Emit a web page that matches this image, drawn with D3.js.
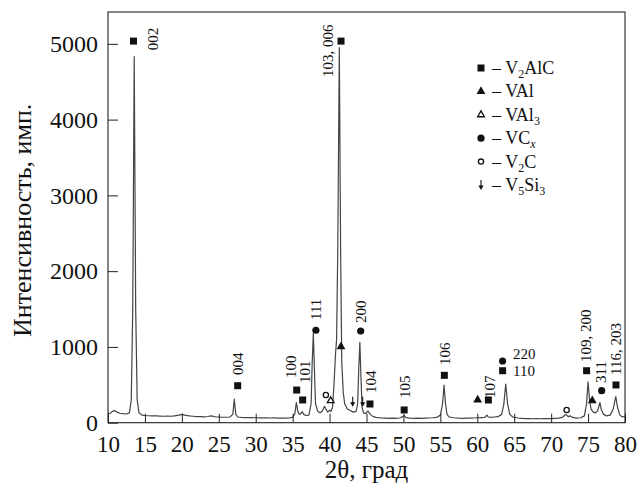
<!DOCTYPE html>
<html><head><meta charset="utf-8">
<script src="https://cdn.jsdelivr.net/npm/d3@7"></script>
<style>
body{margin:0;background:#fff}
text{font-family:"Liberation Serif","Times New Roman",serif;fill:#111}
</style>
</head><body>
<svg id="c" width="638" height="491"></svg>
<script>
// ---- data ----
const theta = [10.0,10.3,10.6,10.9,11.2,11.6,12.0,12.5,12.9,13.15,13.35,13.55,13.75,13.95,14.2,14.6,15,15.5,16,16.5,17,17.5,18,18.5,19,19.6,20,20.4,21,21.5,22,22.5,23,23.5,24,24.5,25,25.5,26,26.5,26.9,27.1,27.3,27.6,28,28.5,29,29.5,30,30.5,31,31.5,32,32.5,33,33.5,34,34.5,35,35.3,35.5,35.7,35.9,36.1,36.3,36.5,36.8,37.2,37.5,37.65,37.8,37.95,38.1,38.4,38.7,39.0,39.3,39.5,39.75,40.0,40.2,40.4,40.6,40.8,40.95,41.1,41.32,41.5,41.65,41.85,42.05,42.4,42.8,43.2,43.6,43.8,43.95,44.1,44.25,44.4,44.6,44.9,45.2,45.5,45.9,46.3,47,47.5,48,48.5,49,49.5,49.9,50.1,50.3,50.8,51.5,52,52.5,53,53.5,54,54.5,55,55.3,55.5,55.7,55.9,56.2,56.8,57.5,58,58.5,59,59.5,60,60.5,61,61.3,61.5,61.8,62.3,62.8,63.3,63.6,63.85,64.1,64.4,64.8,65.5,66,66.5,67,67.5,68,68.5,69,69.5,70,70.5,71,71.5,71.8,72.0,72.3,72.6,72.9,73.4,74,74.5,74.8,75.0,75.2,75.4,75.7,76.0,76.3,76.6,76.8,77.1,77.5,78,78.4,78.75,79.0,79.3,79.6,80];
const intensity = [120,125,150,160,140,125,120,115,130,300,1500,4830,1500,300,130,100,95,92,90,92,88,85,88,85,90,100,110,100,90,85,80,80,78,82,90,78,75,72,72,75,110,310,110,75,70,68,66,66,65,65,63,65,62,63,60,62,60,62,70,120,265,150,110,120,145,110,95,100,250,800,1180,700,250,150,130,150,215,180,140,165,150,200,500,900,1100,2200,4950,2200,800,400,250,180,160,140,150,250,700,1060,600,200,130,120,155,110,80,70,62,60,58,60,58,62,80,95,70,60,58,60,58,60,62,65,70,100,250,495,250,110,75,65,60,58,60,60,62,65,68,70,100,75,70,75,80,110,250,510,250,110,75,62,58,55,55,52,55,52,55,55,55,58,60,70,95,110,80,90,70,60,65,90,250,540,300,180,140,130,160,265,170,110,90,100,180,345,200,100,80,75];
const xTicks = [10,15,20,25,30,35,40,45,50,55,60,65,70,75,80];
const yTicks = [0,1000,2000,3000,4000,5000];

const phases = ["V2AlC","VAl","VAl3","VCx","V2C","V5Si3"];
const markerPhase = ["V2AlC","V2AlC","V2AlC","V2AlC","V2AlC","V2AlC","V2AlC","V2AlC","V2AlC","V2AlC","V2AlC","V2AlC",
  "VAl","VAl","VAl","VAl3","VCx","VCx","VCx","VCx","V2C","V2C","V5Si3","V5Si3"];
const markerTheta = [13.45,27.56,35.55,36.36,41.55,45.47,50.1,55.54,61.5,63.43,74.8,78.78,
  41.55,60.05,75.57,40.15,38.15,44.21,63.43,76.84,39.5,72.1,43.13,44.48];
const markerI = [5036,488,431,300,5036,247,168,625,300,686,686,498,
  1003,300,290,290,1220,1210,814,422,366,168,211,211];

const labelText = ["002","004","100","101","111","103, 006","200","104","105","106","107","109, 200","311","116, 203","220","110"];
const labelTheta = [16.77,28.28,35.45,37.35,38.84,40.46,44.93,46.28,50.89,56.30,62.40,75.40,77.42,79.46,64.83,64.83];
const labelI = [4914,629,590,524,1355,4561,1315,392,326,761,326,801,524,629,840,616];
const labelRotated = [1,1,1,1,1,1,1,1,1,1,1,1,1,1,0,0];

// ---- chart ----
const svg = d3.select("#c");
const x = d3.scaleLinear().domain([10,80]).range([108,625]);
const y = d3.scaleLinear().domain([0,5420]).range([422.7,12]);

// spectrum
const pts = theta.map((t,i)=>[t,intensity[i]]);
svg.append("path").datum(pts)
  .attr("d", d3.line().x(d=>x(d[0])).y(d=>y(d[1])))
  .attr("fill","none").attr("stroke","#444").attr("stroke-width",1.2).attr("stroke-linejoin","round");

// frame
svg.append("rect").attr("x",x(10)).attr("y",y(5420)).attr("width",x(80)-x(10)).attr("height",y(0)-y(5420))
  .attr("fill","none").attr("stroke","#222").attr("stroke-width",1.1);

// axes
const gx = svg.append("g").attr("transform",`translate(0,${y(0)})`)
  .call(d3.axisBottom(x).tickValues(xTicks).tickFormat(d3.format("d")).tickSize(-9).tickPadding(13));
gx.select(".domain").remove();
gx.selectAll("line").attr("stroke","#222");
gx.selectAll("text").attr("font-size",23).attr("font-family","Liberation Serif").attr("fill","#111");

const gy = svg.append("g").attr("transform",`translate(${x(10)},0)`)
  .call(d3.axisLeft(y).tickValues(yTicks).tickFormat(d3.format("d")).tickSize(-10).tickPadding(10));
gy.select(".domain").remove();
gy.selectAll("line").attr("stroke","#222");
gy.selectAll("text").attr("font-size",24).attr("font-family","Liberation Serif").attr("fill","#111");

// axis titles
svg.append("text").attr("x",(x(10)+x(80))/2).attr("y",478).attr("text-anchor","middle")
  .attr("font-size",25).text("2θ, град");
svg.append("text").attr("transform",`translate(31,${(y(0)+y(5420))/2 + 3}) rotate(-90)`)
  .attr("text-anchor","middle").attr("font-size",26).text("Интенсивность, имп.");

// marker drawing
function drawMarker(g, phase, cx, cy){
  if(phase==="V2AlC"){
    g.append("rect").attr("x",cx-3.5).attr("y",cy-3.5).attr("width",7).attr("height",7).attr("fill","#111");
  } else if(phase==="VAl"){
    g.append("path").attr("d",d3.symbol(d3.symbolTriangle,34)()).attr("transform",`translate(${cx},${cy})`).attr("fill","#111");
  } else if(phase==="VAl3"){
    g.append("path").attr("d",d3.symbol(d3.symbolTriangle,20)()).attr("transform",`translate(${cx},${cy})`)
      .attr("fill","#fff").attr("stroke","#111").attr("stroke-width",1.3);
  } else if(phase==="VCx"){
    g.append("circle").attr("cx",cx).attr("cy",cy).attr("r",3.6).attr("fill","#111");
  } else if(phase==="V2C"){
    g.append("circle").attr("cx",cx).attr("cy",cy).attr("r",2.6).attr("fill","#fff").attr("stroke","#111").attr("stroke-width",1.3);
  } else if(phase==="V5Si3"){
    g.append("line").attr("x1",cx).attr("x2",cx).attr("y1",cy-10).attr("y2",cy-3).attr("stroke","#111").attr("stroke-width",1.1);
    g.append("path").attr("d",`M${cx-2.6},${cy-4.5}L${cx+2.6},${cy-4.5}L${cx},${cy}Z`).attr("fill","#111");
  }
}

const gm = svg.append("g");
markerPhase.forEach((p,i)=>drawMarker(gm,p,x(markerTheta[i]),y(markerI[i])));

// peak labels
const gl = svg.append("g");
labelText.forEach((t,i)=>{
  const px = x(labelTheta[i]), py = y(labelI[i]);
  const tx = gl.append("text").attr("font-size",15).text(t);
  if(labelRotated[i]) tx.attr("transform",`translate(${px},${py}) rotate(-90)`);
  else tx.attr("x",px).attr("y",py);
});

// legend
const legendNames = [
  [["V",0],["2",1],["AlC",0]],
  [["VAl",0]],
  [["VAl",0],["3",1]],
  [["VC",0],["x",2]],
  [["V",0],["2",1],["C",0]],
  [["V",0],["5",1],["Si",0],["3",1]]
];
const gLeg = svg.append("g");
phases.forEach((p,i)=>{
  const cy = 68 + i*23.4;
  drawMarker(gLeg, p, 481, p==="V5Si3" ? cy+5 : cy);
  const t = gLeg.append("text").attr("x",492).attr("y",cy+6).attr("font-size",18);
  t.append("tspan").text("– ");
  let sub = false;
  legendNames[i].forEach(([s,k])=>{
    const ts = t.append("tspan").text(s);
    if(k>=1){ ts.attr("font-size",12).attr("dy", sub?0:4); sub=true; if(k===2) ts.attr("font-style","italic"); }
    else { if(sub){ ts.attr("dy",-4); sub=false; } }
  });
});
</script>
</body></html>
